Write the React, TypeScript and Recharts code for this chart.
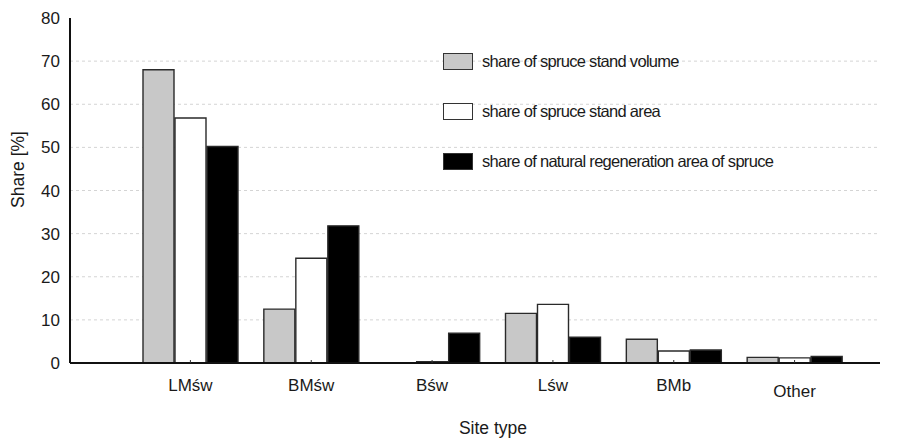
import { BarChart, Bar, XAxis, YAxis, CartesianGrid, Legend } from 'recharts';

const categories = ['LMśw', 'BMśw', 'Bśw', 'Lśw', 'BMb', 'Other'];
const standVolume = [68, 12.5, 0, 11.5, 5.5, 1.3];
const standArea = [56.8, 24.3, 0.3, 13.6, 2.8, 1.2];
const regenArea = [50.2, 31.8, 6.9, 6.0, 3.0, 1.5];
const yTicks = [0, 10, 20, 30, 40, 50, 60, 70, 80];
const gridTicks = [10, 20, 30, 40, 50, 60, 70];

const series = [
  { key: 'volume', name: 'share of spruce stand volume', fill: '#c8c8c8' },
  { key: 'area', name: 'share of spruce stand area', fill: '#ffffff' },
  { key: 'regen', name: 'share of natural regeneration area of spruce', fill: '#000000' },
];

const data = categories.map((site, i) => ({
  site,
  volume: standVolume[i],
  area: standArea[i],
  regen: regenArea[i],
}));

const FONT = '"Liberation Sans", Arial, sans-serif';
const INK = '#1a1a1a';

function SiteTick({ x, y, payload }: any) {
  const extra = payload.value === 'Other' ? 6 : 0;
  return (
    <g>
      <line x1={x} x2={x} y1={y} y2={y - 3} stroke="#333" strokeWidth={1} />
      <text x={x} y={y + 28 + extra} textAnchor="middle" fontSize={17} fill={INK} fontFamily={FONT}>
        {payload.value}
      </text>
    </g>
  );
}

function LegendBox() {
  return (
    <div style={{ fontFamily: FONT }}>
      {series.map((s) => (
        <div key={s.key} style={{ display: 'flex', alignItems: 'center', height: 18, marginBottom: 32 }}>
          <div
            style={{
              width: 28,
              height: 15,
              background: s.fill,
              border: '1.5px solid #333',
            }}
          />
          <span style={{ marginLeft: 9, fontSize: 16.5, letterSpacing: -0.7, color: INK, whiteSpace: 'nowrap' }}>
            {s.name}
          </span>
        </div>
      ))}
    </div>
  );
}

export default function App() {
  return (
    <div style={{ position: 'absolute', left: 0, top: 0, width: 909, height: 440, background: '#fff' }}>
      <BarChart
        width={909}
        height={440}
        data={data}
        margin={{ top: 18, right: 29, left: 0, bottom: 0 }}
        barSize={31}
        barGap={1}
      >
        <CartesianGrid
          vertical={false}
          horizontalValues={gridTicks}
          stroke="#d4d4d4"
          strokeDasharray="3 3"
        />
        <XAxis
          dataKey="site"
          height={77}
          padding={{ left: 60, right: 25 }}
          axisLine={{ stroke: '#111', strokeWidth: 2 }}
          tickLine={false}
          tickSize={0}
          tickMargin={0}
          interval={0}
          tick={<SiteTick />}
          label={{
            content: ({ viewBox }: any) => (
              <text
                x={viewBox.x + viewBox.width / 2 + 18}
                y={viewBox.y + 71}
                textAnchor="middle"
                fontSize={17.5}
                fill={INK}
                fontFamily={FONT}
              >
                Site type
              </text>
            ),
          }}
        />
        <YAxis
          width={70}
          domain={[0, 80]}
          ticks={yTicks}
          interval={0}
          axisLine={{ stroke: '#111', strokeWidth: 2 }}
          tickLine={false}
          tickSize={0}
          tickMargin={10}
          tick={{ fontSize: 17, fill: INK, fontFamily: FONT }}
          label={{
            content: ({ viewBox }: any) => {
              const cx = 18;
              const cy = viewBox.y + viewBox.height / 2 - 21;
              return (
                <text
                  x={cx}
                  y={cy}
                  transform={`rotate(-90, ${cx}, ${cy})`}
                  textAnchor="middle"
                  dominantBaseline="central"
                  fontSize={17.5}
                  fill={INK}
                  fontFamily={FONT}
                >
                  Share [%]
                </text>
              );
            },
          }}
        />
        <Legend
          layout="vertical"
          align="center"
          verticalAlign="middle"
          wrapperStyle={{ left: 443, top: 52, width: 'auto' }}
          content={() => <LegendBox />}
        />
        {series.map((s) => (
          <Bar
            key={s.key}
            dataKey={s.key}
            name={s.name}
            fill={s.fill}
            stroke="#2a2a2a"
            strokeWidth={1.4}
            isAnimationActive={false}
          />
        ))}
      </BarChart>
    </div>
  );
}
